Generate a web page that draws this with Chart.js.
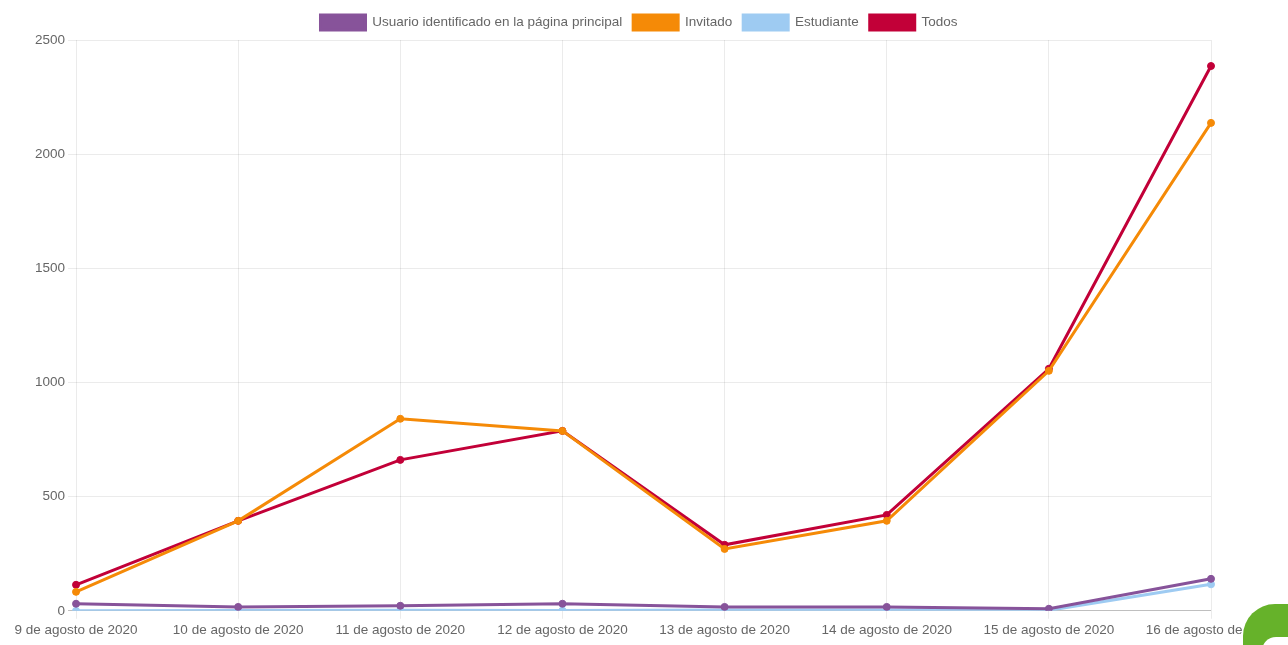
<!DOCTYPE html>
<html>
<head>
<meta charset="utf-8">
<script src="https://cdn.jsdelivr.net/npm/chart.js@4/dist/chart.umd.min.js"></script>
<style>
  html, body { margin: 0; padding: 0; background: #fff; overflow: hidden; }
  #wrap { position: relative; width: 1288px; height: 645px; }
  #blob {
    position: absolute; left: 1243px; top: 604px; width: 80px; height: 60px;
    border-radius: 32px 0 0 0; background: #66b22a;
  }
  #blobHole {
    position: absolute; left: 1262px; top: 637px; width: 60px; height: 40px;
    border-radius: 14px 0 0 0; background: #fff;
  }
</style>
</head>
<body>
<div id="wrap">
  <canvas id="chart" width="1288" height="645"></canvas>
  <div id="blob"></div>
  <div id="blobHole"></div>
</div>
<script>
const labels = ['9 de agosto de 2020', '10 de agosto de 2020', '11 de agosto de 2020', '12 de agosto de 2020',
    '13 de agosto de 2020', '14 de agosto de 2020', '15 de agosto de 2020', '16 de agosto de 2020'];
const usuario = [31, 17, 22, 31, 17, 17, 9, 140];
const invitado = [83, 394, 841, 788, 271, 394, 1051, 2137];
const estudiante = [0, 1, 2, 1, 4, 3, 2, 116];
const todos = [114, 394, 661, 788, 289, 420, 1060, 2386];

function serie(label, data, color) {
    return {
        label: label,
        data: data,
        borderColor: color,
        backgroundColor: color,
        borderWidth: 3,
        pointRadius: 3.5,
        pointBorderWidth: 1,
        tension: 0,
        fill: false
    };
}

Chart.defaults.font.family = '"Liberation Sans", Arial, sans-serif';
Chart.defaults.font.size = 13.5;
Chart.defaults.color = '#666';

const ctx = document.getElementById('chart').getContext('2d');
new Chart(ctx, {
    type: 'line',
    data: {
        labels: labels,
        datasets: [
            serie('Usuario identificado en la página principal', usuario, '#87539a'),
            serie('Invitado', invitado, '#f58a07'),
            serie('Estudiante', estudiante, '#9ecbf2'),
            serie('Todos', todos, '#c20038')
        ]
    },
    options: {
        responsive: false,
        animation: false,
        layout: { padding: { top: 4, right: 42, bottom: 4, left: 32 } },
        plugins: {
            legend: {
                labels: { boxWidth: 45, boxHeight: 15, padding: 11 }
            },
            tooltip: { enabled: false }
        },
        scales: {
            x: {
                grid: { color: 'rgba(0,0,0,0.08)' },
                border: { display: false },
                ticks: { maxRotation: 0, autoSkip: false },
                afterFit: s => { s.paddingRight = 77; }
            },
            y: {
                min: 0,
                max: 2500,
                ticks: { stepSize: 500, callback: v => String(v) },
                border: { display: false },
                grid: {
                    color: c => c.tick && c.tick.value === 0 ? 'rgba(0,0,0,0.25)' : 'rgba(0,0,0,0.08)'
                }
            }
        }
    }
});
</script>
</body>
</html>
